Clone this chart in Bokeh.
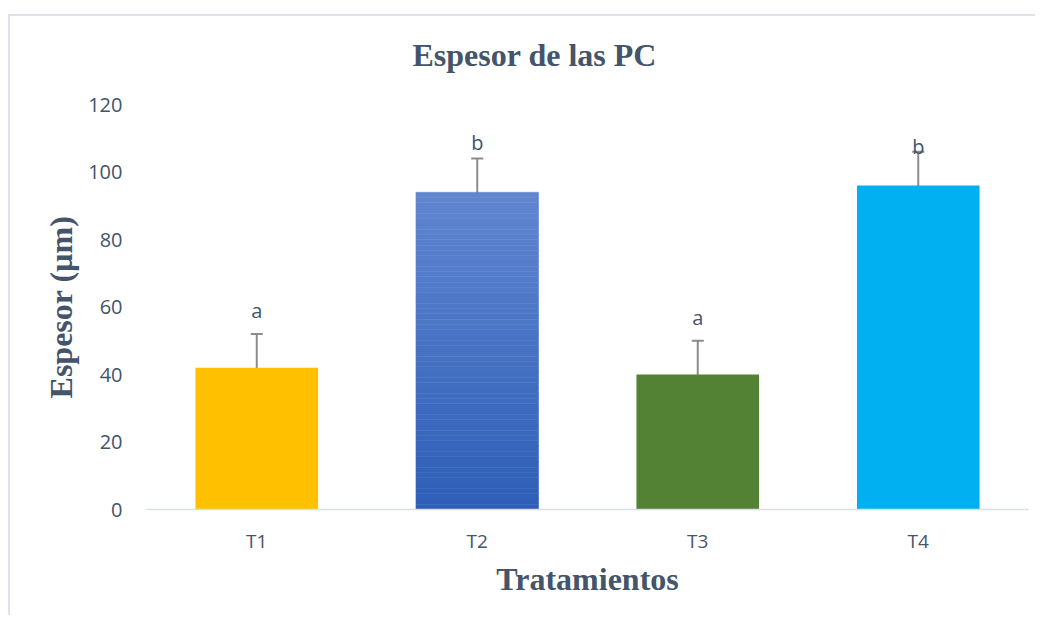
import numpy as np
from bokeh.plotting import figure
from bokeh.models import ColumnDataSource, Whisker, TeeHead, Title, FactorRange, SingleIntervalTicker
from bokeh.core.properties import value
from bokeh.embed import file_html
from bokeh.resources import INLINE

# ---- data ----
categories = ["T1", "T2", "T3", "T4"]
espesor = [42, 94, 40, 96]
err_plus = [10, 10, 10, 10]
err_minus = [1, 1, 1, 1]
letters = ["a", "b", "a", "b"]
letter_y = [59, 108.7, 57, 107.6]
colors = ["#FFC000", "#4472C4", "#548235", "#00B0F0"]

TEXT = "#44546A"
BORDER = "#DDE2EA"

p = figure(x_range=FactorRange(*categories), y_range=(0, 120),
           width=1035, height=615, output_backend="svg", toolbar_location=None,
           min_border_left=146, min_border_right=7, min_border_top=104,
           min_border_bottom=106)
p.styles = {
    "background": ("linear-gradient(%s,%s) 8px 14px / calc(100%% - 8px) 2px no-repeat, "
                   "linear-gradient(%s,%s) 8px 14px / 2px 100%% no-repeat, white")
                  % (BORDER, BORDER, BORDER, BORDER)
}
p.outline_line_color = None
p.xgrid.grid_line_color = None
p.ygrid.grid_line_color = None
p.background_fill_color = "white"
p.border_fill_color = None

bw = 0.556
for i, (c, v) in enumerate(zip(categories, espesor)):
    if c == "T2":
        n = 60
        top_rgb = np.array([96, 134, 208])
        bot_rgb = np.array([46, 94, 183])
        bottoms = [v * k / n for k in range(n)]
        tops = [v * (k + 1) / n for k in range(n)]
        cols = []
        for k in range(n):
            t = (k + 0.5) / n
            rgb = bot_rgb + (top_rgb - bot_rgb) * t
            cols.append("#%02x%02x%02x" % tuple(int(round(x)) for x in rgb))
        p.vbar(x=[c] * n, bottom=bottoms, top=tops, width=bw,
               fill_color=cols, line_color=cols, line_width=0.5)
    else:
        p.vbar(x=[c], top=[v], width=bw, fill_color=colors[i], line_color=None)

src = ColumnDataSource(dict(
    x=categories,
    upper=[v + e for v, e in zip(espesor, err_plus)],
    lower=[v - e for v, e in zip(espesor, err_minus)],
    ly=letter_y, lt=letters))

wh = Whisker(source=src, base="x", upper="upper", lower="lower",
             line_color="#8C8C8C", line_width=2,
             upper_head=TeeHead(size=12, line_color="#8C8C8C", line_width=2),
             lower_head=TeeHead(size=12, line_color="#8C8C8C", line_width=2))
p.add_layout(wh)

p.text(x="x", y="ly", text="lt", source=src, text_align="center",
       text_baseline="middle", text_font=value("Open Sans"),
       text_font_size="20px", text_color=TEXT)

# axes
p.xaxis.axis_line_color = "#D9DEE6"
p.xaxis.axis_line_width = 1.5
p.xaxis.major_tick_line_color = None
p.xaxis.minor_tick_line_color = None
p.xaxis.major_label_text_font = "Open Sans"
p.xaxis.major_label_text_font_size = "19px"
p.xaxis.major_label_text_color = TEXT
p.xaxis.major_label_standoff = 12
p.xaxis.axis_label = "Tratamientos"
p.xaxis.axis_label_text_font = "Liberation Serif"
p.xaxis.axis_label_text_font_style = "bold"
p.xaxis.axis_label_text_font_size = "32px"
p.xaxis.axis_label_text_color = TEXT
p.xaxis.axis_label_standoff = 4

p.yaxis.axis_line_color = None
p.yaxis.major_tick_line_color = None
p.yaxis.minor_tick_line_color = None
p.yaxis.ticker = SingleIntervalTicker(interval=20)
p.yaxis.major_label_text_font = "Open Sans"
p.yaxis.major_label_text_font_size = "20px"
p.yaxis.major_label_text_color = TEXT
p.yaxis.major_label_standoff = 18
p.yaxis.axis_label = "Espesor (µm)"
p.yaxis.axis_label_text_font = "Liberation Serif"
p.yaxis.axis_label_text_font_style = "bold"
p.yaxis.axis_label_text_font_size = "32px"
p.yaxis.axis_label_text_color = TEXT
p.yaxis.axis_label_standoff = 6

title = Title(text="Espesor de las PC", align="left", offset=266, standoff=64,
              text_font="Liberation Serif", text_font_style="bold",
              text_font_size="32px", text_color=TEXT)
p.add_layout(title, "above")

open("out.html", "w").write(file_html(p, INLINE))
